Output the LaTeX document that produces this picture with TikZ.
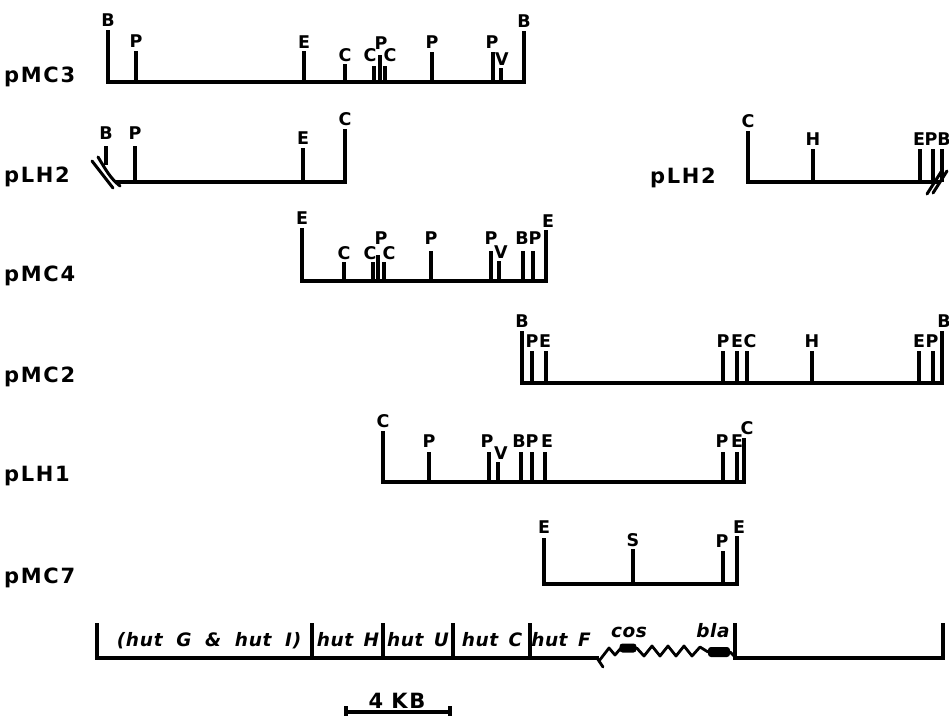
\documentclass[tikz,border=0pt]{standalone}
\usepackage{fontspec}
\setmainfont{DejaVu Sans}
\newfontfamily\rowfont[LetterSpace=8]{DejaVu Sans}
\newfontfamily\genefont[WordSpace=1.5,LetterSpace=3]{DejaVu Sans}
\newfontfamily\genewide[WordSpace=1.9,LetterSpace=4]{DejaVu Sans}
\begin{document}
\begin{tikzpicture}[x=1pt,y=-1pt,
  tk/.style={line width=3.3pt, line cap=butt},
  bl/.style={line width=3.3pt, line cap=rect},
  zig/.style={line width=2.8pt, line join=round, line cap=round},
  brk/.style={line width=3pt, line cap=round},
  sl/.style={anchor=base, inner sep=0pt, font=\fontsize{17.5}{17.5}\selectfont\bfseries},
  rl/.style={anchor=base west, inner sep=0pt, font=\rowfont\fontsize{21}{21}\selectfont\bfseries},
  gl/.style={anchor=base, inner sep=0pt, font=\genefont\fontsize{18.5}{18.5}\selectfont\bfseries\itshape},
  glw/.style={anchor=base, inner sep=0pt, font=\genewide\fontsize{18.5}{18.5}\selectfont\bfseries\itshape},
  gbox/.style={fill=black, rounded corners=3pt, inner sep=0pt}]
\useasboundingbox (0,0) rectangle (949,720);

% ---------- pMC3 ----------
\node[rl] (lmc3) at (4,82) {pMC3};
\draw[bl] (108,82) -- (524,82);
\foreach \x/\t/\l/\lx/\ly [count=\i] in {108/30/B/108/26, 136/51/P/136/47, 304/51/E/304/48,
  345/64/C/345/61, 374/66/C/370/61, 380/55/P/381/49, 385/66/C/390/61, 432/52/P/432/48,
  493/52/P/492/48, 501/68/V/502/65, 524/31/B/524/27}
{ \draw[tk] (\x,\t) -- (\x,82); \node[sl] (mcthree-\i) at (\lx,\ly) {\l}; }

% ---------- pLH2 (left) ----------
\node[rl] (llhtwoa) at (4,182) {pLH2};
\draw[bl] (117,182) -- (345,182);
\draw[tk] (106,146) -- (106,165);
\node[sl] (lhtwoa-b) at (106,139) {B};
\foreach \x/\t/\l/\lx/\ly [count=\i] in {135/146/P/135/139, 303/148/E/303/144, 345/129/C/345/125}
{ \draw[tk] (\x,\t) -- (\x,182); \node[sl] (lhtwoa-\i) at (\lx,\ly) {\l}; }
\draw[brk] (92,161) -- (113,188);
\draw[brk] (98,157) .. controls (106,170) and (110,178) .. (120,186);

% ---------- pLH2 (right) ----------
\node[rl] (llhtwob) at (650,183) {pLH2};
\draw[bl] (748,182) -- (938,182);
\foreach \x/\t/\l/\lx/\ly [count=\i] in {748/131/C/748/127, 813/149/H/813/145, 920/149/E/919/145,
  933/149/P/931/145, 942/149/B/944/145}
{ \draw[tk] (\x,\t) -- (\x,182); \node[sl] (lhtwob-\i) at (\lx,\ly) {\l}; }
\draw[brk] (927,194) -- (941,172);
\draw[brk] (933,193) -- (947,171);

% ---------- pMC4 ----------
\node[rl] (lmc4) at (4,281) {pMC4};
\draw[bl] (302,281) -- (546,281);
\foreach \x/\t/\l/\lx/\ly [count=\i] in {302/228/E/302/224, 344/262/C/344/259, 373/262/C/370/259,
  378/255/P/381/244, 384/262/C/389/259, 431/251/P/431/244, 491/251/P/491/244, 499/261/V/501/258,
  523/251/B/522/244, 533/251/P/535/244, 546/230/E/548/227}
{ \draw[tk] (\x,\t) -- (\x,281); \node[sl] (mcfour-\i) at (\lx,\ly) {\l}; }

% ---------- pMC2 ----------
\node[rl] (lmc2) at (4,382) {pMC2};
\draw[bl] (522,383) -- (942,383);
\foreach \x/\t/\l/\lx/\ly [count=\i] in {522/331/B/522/327, 532/351/P/532/347, 546/351/E/545/347,
  723/351/P/723/347, 737/351/E/737/347, 747/351/C/750/347, 812/351/H/812/347,
  919/351/E/919/347, 933/351/P/932/347, 942/331/B/944/327}
{ \draw[tk] (\x,\t) -- (\x,383); \node[sl] (mctwo-\i) at (\lx,\ly) {\l}; }

% ---------- pLH1 ----------
\node[rl] (llhone) at (4,481) {pLH1};
\draw[bl] (383,482) -- (744,482);
\foreach \x/\t/\l/\lx/\ly [count=\i] in {383/431/C/383/427, 429/452/P/429/447, 489/452/P/487/447,
  498/462/V/501/459, 521/452/B/519/447, 532/452/P/532/447, 545/452/E/547/447,
  723/452/P/722/447, 737/452/E/737/447, 744/438/C/747/434}
{ \draw[tk] (\x,\t) -- (\x,482); \node[sl] (lhone-\i) at (\lx,\ly) {\l}; }

% ---------- pMC7 ----------
\node[rl] (lmc7) at (4,583) {pMC7};
\draw[bl] (544,584) -- (737,584);
\foreach \x/\t/\l/\lx/\ly [count=\i] in {544/538/E/544/533, 633/549/S/633/546, 723/551/P/722/547,
  737/536/E/739/533}
{ \draw[tk] (\x,\t) -- (\x,584); \node[sl] (mcseven-\i) at (\lx,\ly) {\l}; }

% ---------- genetic map ----------
\draw[bl] (97,658) -- (597,658);
\foreach \x in {97,312,383,453,530} { \draw[tk] (\x,623) -- (\x,658); }
\node[glw] (g1) at (209,646) {(hut G \& hut I)};
\node[gl] (g2) at (348,646) {hut H};
\node[gl] (g3) at (418,646) {hut U};
\node[gl] (g4) at (492,646) {hut C};
\node[gl] (g5) at (561,646) {hut F};
\draw[zig] (597,658) -- (603,667);
\draw[zig] (599,661) -- (609,648) -- (615,655) -- (621,648);
\node[gbox, minimum width=17pt, minimum height=9pt] (cosbox) at (628,648) {};
\draw[zig] (cosbox.east) -- (644,656) -- (652,646) -- (660,656) -- (668,646) -- (676,656)
  -- (684,646) -- (692,656) -- (700,647) -- (708,652);
\node[gbox, minimum width=22pt, minimum height=10pt] (blabox) at (719,652) {};
\draw[zig] (blabox.east) -- (735,657);
\node[gl] (cos) at (629,637) {cos};
\node[gl] (bla) at (713,637) {bla};
\draw[bl] (735,658) -- (943,658);
\draw[tk] (735,623) -- (735,658);
\draw[tk] (943,623) -- (943,658);

% ---------- scale bar ----------
\draw[bl] (346,712) -- (450,712);
\draw[tk] (346,706) -- (346,716);
\draw[tk] (450,706) -- (450,716);
\node[rl, anchor=base] (scale) at (397,708) {4\hspace{8pt}KB};
\end{tikzpicture}
\end{document}
